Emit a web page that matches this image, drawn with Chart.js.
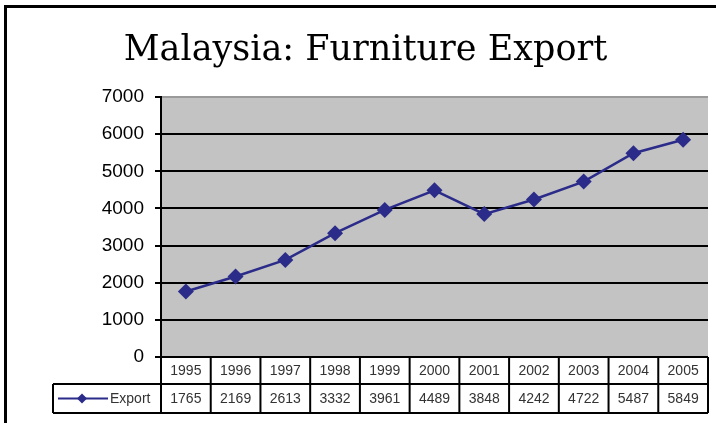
<!DOCTYPE html>
<html>
<head>
<meta charset="utf-8">
<script src="https://cdn.jsdelivr.net/npm/chart.js@4.4.1/dist/chart.umd.min.js"></script>
<style>
  html, body { margin: 0; padding: 0; background: #fff; }
  #wrap { width: 716px; height: 423px; position: relative; }
</style>
</head>
<body>
<div id="wrap"><canvas id="exportChart" width="716" height="423"></canvas></div>
<script>
// données
const years = ['1995', '1996', '1997', '1998', '1999', '2000', '2001', '2002', '2003', '2004', '2005'];
const exportValues = [1765, 2169, 2613, 3332, 3961, 4489, 3848, 4242, 4722, 5487, 5849];
const yTicks = [0, 1000, 2000, 3000, 4000, 5000, 6000, 7000];
const seriesName = 'Export';

const LINE_COLOR = '#2b2b8a';
const TABLE_FONT = '14px "Liberation Sans", Arial, sans-serif';

// fond gris de la zone de tracé + cadre de l'image
const backgroundPlugin = {
    id: 'plotBackground',
    beforeDraw(chart) {
        const { ctx, chartArea } = chart;
        ctx.save();
        ctx.fillStyle = '#c3c3c3';
        ctx.fillRect(chartArea.left, chartArea.top, chartArea.right - chartArea.left, chartArea.bottom - chartArea.top);
        // cadre noir en haut et à gauche
        ctx.strokeStyle = '#000';
        ctx.lineWidth = 3;
        ctx.beginPath();
        ctx.moveTo(5.5, 423);
        ctx.lineTo(5.5, 6.5);
        ctx.lineTo(716, 6.5);
        ctx.stroke();
        ctx.restore();
    }
};

// tableau de données sous l'axe des x
const dataTablePlugin = {
    id: 'dataTable',
    afterDraw(chart) {
        const { ctx, chartArea, scales } = chart;
        const x = scales.x;
        const half = (x.getPixelForValue(1) - x.getPixelForValue(0)) / 2;
        const top = chartArea.bottom;
        const mid = top + 27;
        const bottom = top + 56;
        const legendLeft = 53;
        const right = x.getPixelForValue(years.length - 1) + half;

        ctx.save();
        ctx.strokeStyle = '#000';
        ctx.lineWidth = 2;
        ctx.beginPath();
        // lignes horizontales
        ctx.moveTo(legendLeft, mid); ctx.lineTo(right, mid);
        ctx.moveTo(legendLeft, bottom); ctx.lineTo(right, bottom);
        // colonne légende
        ctx.moveTo(legendLeft, mid); ctx.lineTo(legendLeft, bottom);
        // colonnes des années
        for (let i = 0; i <= years.length; i++) {
            const cx = x.getPixelForValue(0) - half + i * half * 2;
            ctx.moveTo(cx, top); ctx.lineTo(cx, bottom);
        }
        ctx.stroke();

        // textes
        ctx.font = TABLE_FONT;
        ctx.fillStyle = '#333';
        ctx.textAlign = 'center';
        ctx.textBaseline = 'middle';
        years.forEach((yr, i) => {
            const cx = x.getPixelForValue(i);
            ctx.fillText(yr, cx, (top + mid) / 2 + 1);
            ctx.fillText(String(exportValues[i]), cx, (mid + bottom) / 2 + 1);
        });

        // légende : trait + losange + nom
        const ly = (mid + bottom) / 2;
        ctx.strokeStyle = LINE_COLOR;
        ctx.lineWidth = 2;
        ctx.beginPath();
        ctx.moveTo(58, ly); ctx.lineTo(108, ly);
        ctx.stroke();
        ctx.fillStyle = LINE_COLOR;
        ctx.beginPath();
        ctx.moveTo(82, ly - 5); ctx.lineTo(87, ly); ctx.lineTo(82, ly + 5); ctx.lineTo(77, ly);
        ctx.closePath();
        ctx.fill();
        ctx.fillStyle = '#333';
        ctx.textAlign = 'left';
        ctx.fillText(seriesName, 110, ly + 1);
        ctx.restore();
    }
};

function initExportChart() {
    const ctx = document.getElementById('exportChart');
    if (!ctx) {
        console.error('Canvas introuvable');
        return;
    }

    new Chart(ctx, {
        type: 'line',
        data: {
            labels: years,
            datasets: [{
                label: seriesName,
                data: exportValues,
                borderColor: LINE_COLOR,
                backgroundColor: LINE_COLOR,
                borderWidth: 2.5,
                pointStyle: 'rectRot',
                pointRadius: 8,
                pointBorderWidth: 0,
                tension: 0
            }]
        },
        options: {
            responsive: false,
            animation: false,
            layout: {
                padding: { left: 18, right: 3, top: 0, bottom: 66 }
            },
            plugins: {
                legend: { display: false },
                tooltip: { enabled: false },
                title: {
                    display: true,
                    text: 'Malaysia: Furniture Export',
                    color: '#000',
                    font: { family: '"DejaVu Serif", serif', size: 35, weight: 'normal' },
                    padding: { top: 30, bottom: 25 }
                }
            },
            scales: {
                x: {
                    type: 'category',
                    offset: true,
                    display: false
                },
                y: {
                    min: 0,
                    max: 7000,
                    afterBuildTicks: (scale) => {
                        scale.ticks = yTicks.map(v => ({ value: v }));
                    },
                    afterFit: (scale) => {
                        scale.width = 143;
                    },
                    border: { display: true, color: '#000', width: 2 },
                    grid: {
                        color: (c) => (c.tick && c.tick.value === 7000 ? '#9a9a9a' : '#000'),
                        tickColor: '#000',
                        lineWidth: 2,
                        tickLength: 6
                    },
                    ticks: {
                        color: '#000',
                        padding: 11,
                        font: { family: '"Liberation Sans", Arial, sans-serif', size: 19 },
                        callback: (value) => String(value)
                    }
                }
            }
        },
        plugins: [backgroundPlugin, dataTablePlugin]
    });
}

if (document.readyState === 'complete') {
    initExportChart();
} else {
    document.addEventListener('DOMContentLoaded', initExportChart);
}
</script>
</body>
</html>
